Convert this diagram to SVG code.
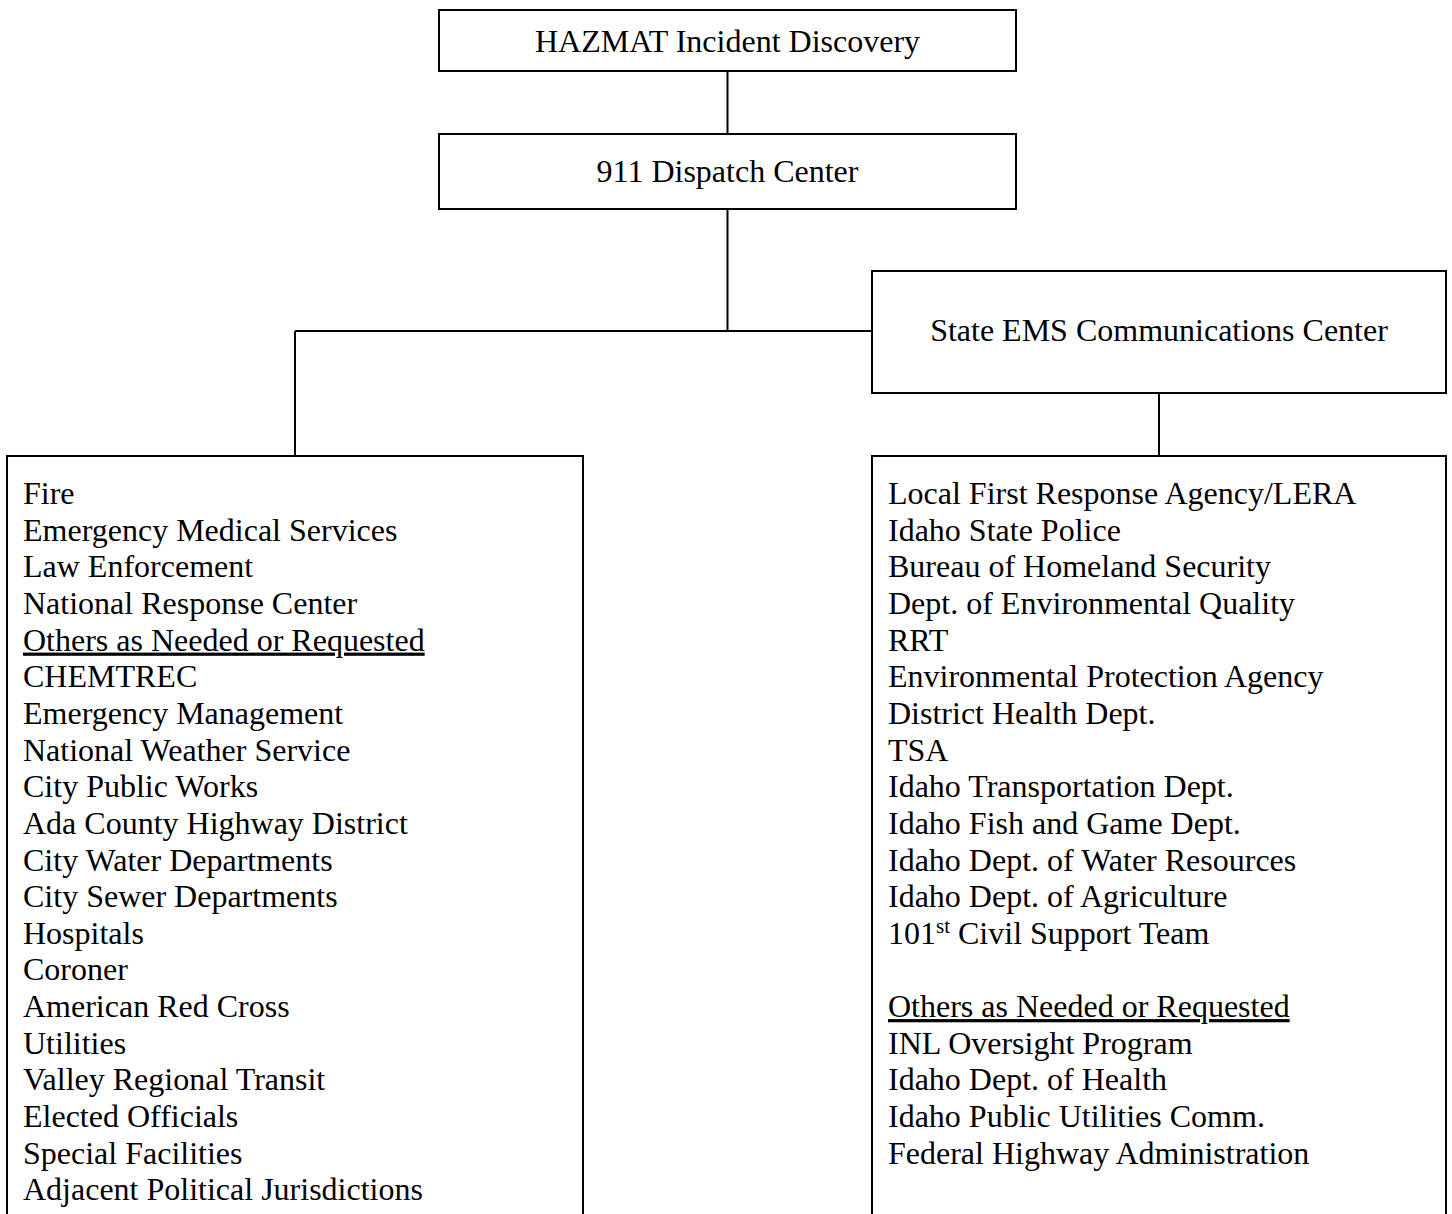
<svg xmlns="http://www.w3.org/2000/svg" width="1452" height="1214" viewBox="0 0 1452 1214">
<style>
.box{fill:#fff;stroke:#000;stroke-width:2}
.ln{fill:none;stroke:#000;stroke-width:2}
text{font-family:"Liberation Serif","Times New Roman",serif;font-size:32px;fill:#000}
.c{text-anchor:middle}
.u{text-decoration:underline}
</style>
<rect width="1452" height="1214" fill="#fff"/>
<g id="connectors">
<path class="ln" d="M727.5 71V134M727.5 209V331M295 331H872M295 331V456M1159 393V456"/>
</g>
<g id="hazmat">
<rect class="box" x="439" y="10" width="577" height="61"/>
<text class="c" x="727.5" y="52">HAZMAT Incident Discovery</text>
</g>
<g id="dispatch">
<rect class="box" x="439" y="134" width="577" height="75"/>
<text class="c" x="727.5" y="182">911 Dispatch Center</text>
</g>
<g id="state-ems">
<rect class="box" x="872" y="271" width="574" height="122"/>
<text class="c" x="1159" y="341">State EMS Communications Center</text>
</g>
<g id="local-list">
<rect class="box" x="7" y="456" width="576" height="800"/>
<text x="23" y="504">Fire</text>
<text x="23" y="540.65">Emergency Medical Services</text>
<text x="23" y="577.3">Law Enforcement</text>
<text x="23" y="613.95">National Response Center</text>
<text class="u" x="23" y="650.6">Others as Needed or Requested</text>
<text x="23" y="687.25">CHEMTREC</text>
<text x="23" y="723.9">Emergency Management</text>
<text x="23" y="760.55">National Weather Service</text>
<text x="23" y="797.2">City Public Works</text>
<text x="23" y="833.85">Ada County Highway District</text>
<text x="23" y="870.5">City Water Departments</text>
<text x="23" y="907.15">City Sewer Departments</text>
<text x="23" y="943.8">Hospitals</text>
<text x="23" y="980.45">Coroner</text>
<text x="23" y="1017.1">American Red Cross</text>
<text x="23" y="1053.75">Utilities</text>
<text x="23" y="1090.4">Valley Regional Transit</text>
<text x="23" y="1127.05">Elected Officials</text>
<text x="23" y="1163.7">Special Facilities</text>
<text x="23" y="1200.35">Adjacent Political Jurisdictions</text>
</g>
<g id="state-list">
<rect class="box" x="872" y="456" width="574" height="800"/>
<text x="888" y="504">Local First Response Agency/LERA</text>
<text x="888" y="540.65">Idaho State Police</text>
<text x="888" y="577.3">Bureau of Homeland Security</text>
<text x="888" y="613.95">Dept. of Environmental Quality</text>
<text x="888" y="650.6">RRT</text>
<text x="888" y="687.25">Environmental Protection Agency</text>
<text x="888" y="723.9">District Health Dept.</text>
<text x="888" y="760.55">TSA</text>
<text x="888" y="797.2">Idaho Transportation Dept.</text>
<text x="888" y="833.85">Idaho Fish and Game Dept.</text>
<text x="888" y="870.5">Idaho Dept. of Water Resources</text>
<text x="888" y="907.15">Idaho Dept. of Agriculture</text>
<text x="888" y="943.8">101<tspan font-size="21" dy="-11">st</tspan><tspan dy="11"> Civil Support Team</tspan></text>
<text class="u" x="888" y="1017.1">Others as Needed or Requested</text>
<text x="888" y="1053.75">INL Oversight Program</text>
<text x="888" y="1090.4">Idaho Dept. of Health</text>
<text x="888" y="1127.05">Idaho Public Utilities Comm.</text>
<text x="888" y="1163.7">Federal Highway Administration</text>
</g>
</svg>
